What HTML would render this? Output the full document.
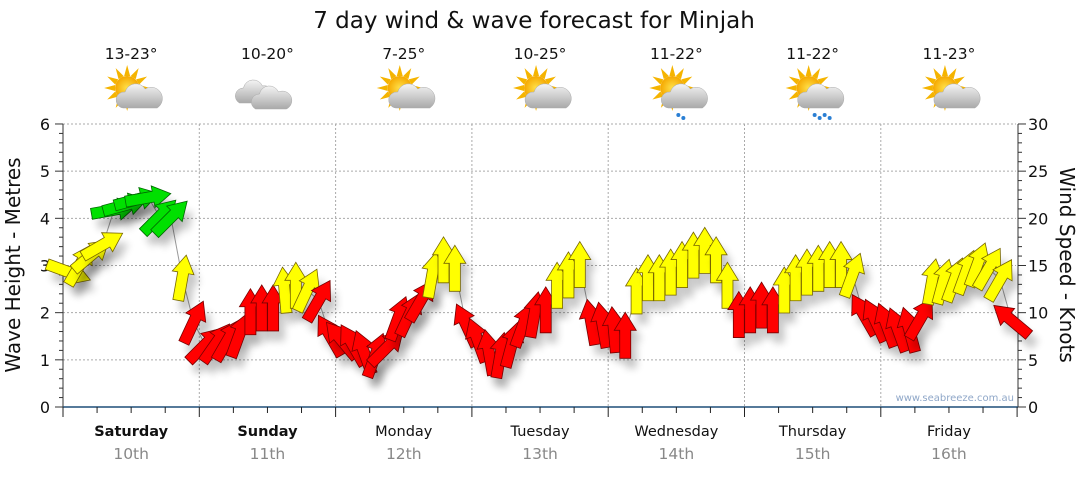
<!DOCTYPE html>
<html><head><meta charset="utf-8"><style>
body{margin:0;background:#fff;width:1080px;height:475px;overflow:hidden;font-family:"DejaVu Sans","Liberation Sans",sans-serif}
</style></head><body>
<svg id="c" width="1080" height="475" xmlns="http://www.w3.org/2000/svg">
<defs>
<filter id="sh" x="-50%" y="-50%" width="200%" height="200%"><feGaussianBlur stdDeviation="4"/></filter>
<radialGradient id="sun" cx="0.5" cy="0.5" r="0.5"><stop offset="0" stop-color="#ffe14a"/><stop offset="1" stop-color="#f5a800"/></radialGradient>
<linearGradient id="cl" x1="0" y1="0" x2="0" y2="1"><stop offset="0" stop-color="#f4f4f4"/><stop offset="1" stop-color="#a9a9a9"/></linearGradient>
</defs>
<text x="534" y="28" text-anchor="middle" font-size="23" fill="#111">7 day wind &amp; wave forecast for Minjah</text>
<g id="grid"></g><g id="axes"></g><g id="icons"></g><g id="marks"></g>
<text x="1014" y="401" text-anchor="end" font-size="10" fill="#8fa7c8">www.seabreeze.com.au</text>
<text transform="translate(20,265) rotate(-90)" text-anchor="middle" font-size="20" fill="#111">Wave Height - Metres</text>
<text transform="translate(1060,265) rotate(90)" text-anchor="middle" font-size="20" fill="#111">Wind Speed - Knots</text>
</svg>
<script>
const days=["Saturday","Sunday","Monday","Tuesday","Wednesday","Thursday","Friday"];
const dates=["10th","11th","12th","13th","14th","15th","16th"];
const temps=["13-23°","10-20°","7-25°","10-25°","11-22°","11-22°","11-23°"];
const weather=["sun","cloud","sun","sun","rain","rain2","sun"];
const leftTicks=[0,1,2,3,4,5,6];
const rightTicks=[0,5,10,15,20,25,30];
const windSpeed=[14.3,15.1,16.1,17.2,20.9,21.4,22.0,22.2,20.2,20.1,13.7,9.0,
6.6,6.8,7.1,7.6,10.1,10.5,10.5,12.4,12.9,12.4,11.3,7.6,
7.1,6.6,5.8,5.5,6.3,9.4,9.8,11.3,14.0,15.6,14.7,8.7,
7.1,5.8,5.5,6.6,8.7,9.8,10.3,12.9,14.0,15.1,9.0,8.7,
8.2,7.6,12.3,13.7,13.7,14.3,15.1,16.1,16.6,15.6,12.9,9.8,
10.3,10.8,10.3,12.4,13.7,14.3,14.7,15.1,15.1,14.0,9.8,9.2,
8.7,8.2,8.2,9.4,13.3,13.3,13.5,14.3,15.1,14.7,13.5,9.2];
const windDir=[110,30,50,60,80,75,75,80,45,45,10,25,
45,35,30,20,0,0,0,-5,0,25,30,-30,
-40,-30,-20,20,45,20,25,30,10,0,0,-25,
-20,-10,10,15,20,10,0,0,0,0,-10,-10,
-5,0,0,0,0,0,0,0,0,0,0,0,
0,0,0,0,0,0,0,0,0,20,-30,-25,
-20,-20,-15,30,10,15,20,20,20,30,30,-50];
const svg=document.getElementById('c'),NS="http://www.w3.org/2000/svg";
const X0=63,DW=136.3,Y0=407,PM=47.17;
const xAt=h=>X0+h/24*DW, yM=m=>Y0-m*PM, yK=k=>Y0-k/5*PM;
function mk(t,a,p){const e=document.createElementNS(NS,t);for(const k in a)e.setAttribute(k,a[k]);(p||svg).appendChild(e);return e;}
const grid=document.getElementById('grid'),axes=document.getElementById('axes'),icons=document.getElementById('icons'),marks=document.getElementById('marks');
leftTicks.forEach(v=>{if(v>0){const l=mk('line',{x1:X0,x2:1016,y1:yM(v),y2:yM(v),stroke:'#aaa','stroke-dasharray':'2,2'},grid);}
const t=mk('text',{x:50,y:yM(v)+6,'text-anchor':'end','font-size':16,fill:'#111'},axes);t.textContent=v;
});
rightTicks.forEach(v=>{const t=mk('text',{x:1028,y:yK(v)+6,'font-size':16,fill:'#111'},axes);t.textContent=v;
});
for(let i=0;i<=30;i++){const y=Y0-i*PM/5;mk('line',{x1:i%5?X0-4:X0-8,x2:X0,y1:y,y2:y,stroke:'#333'},axes);mk('line',{x1:1018,x2:i%5?1022:1026,y1:y,y2:y,stroke:'#333'},axes);}
mk('line',{x1:X0,x2:X0,y1:124,y2:Y0,stroke:'#333'},axes);mk('line',{x1:1018,x2:1018,y1:124,y2:Y0,stroke:'#333'},axes);
mk('line',{x1:X0,x2:1018,y1:Y0,y2:Y0,stroke:'#1f4e79','stroke-width':1.5},axes);
for(let q=0;q<=28;q++){const x=xAt(q*6);mk('line',{x1:x,x2:x,y1:Y0,y2:Y0+(q%4?6:10),stroke:'#222'},axes);
if(q%4==0&&q>0&&q<28){const l=mk('line',{x1:x,x2:x,y1:124,y2:Y0,stroke:'#aaa','stroke-dasharray':'2,2'},grid);}}
days.forEach((d,i)=>{const cx=xAt(i*24+12);
const t=mk('text',{x:cx,y:436,'text-anchor':'middle','font-size':14.5,fill:'#111','font-weight':i<2?'bold':'normal'},axes);t.textContent=d;

const t2=mk('text',{x:cx,y:459,'text-anchor':'middle','font-size':15.5,fill:'#888'},axes);t2.textContent=dates[i];

const t3=mk('text',{x:cx,y:59,'text-anchor':'middle','font-size':15.5,fill:'#111'},icons);t3.textContent=temps[i];

const g=mk('g',{transform:`translate(${cx},95)`},icons);

if(weather[i]!=='cloud'){for(let k=0;k<12;k++){mk('polygon',{points:'-3,-12 0,-23 3,-12',fill:'#f5b400',transform:`translate(-4,-7) rotate(${k*30})`},g);}
mk('circle',{cx:-4,cy:-7,r:12,fill:'url(#sun)'},g);
mk('path',{d:'M-8,13 a8,8 0 0 1 2,-16 a11,11 0 0 1 20,-3 a8,8 0 0 1 12,19 z',fill:'url(#cl)',stroke:'#aaa','stroke-width':.5},g);
if(weather[i]!=='sun'){const n=weather[i]==='rain2'?4:2;for(let k=0;k<n;k++)mk('circle',{cx:2+k*5,cy:20+(k%2)*3,r:2,fill:'#2a7fd4'},g);}}
else{mk('path',{d:'M-28,8 a8,8 0 0 1 4,-15 a10,10 0 0 1 19,-2 a8,8 0 0 1 4,17 z',fill:'url(#cl)',stroke:'#aaa','stroke-width':.5},g);
mk('path',{d:'M-12,14 a8,8 0 0 1 4,-15 a10,10 0 0 1 19,-2 a8,8 0 0 1 8,17 z',fill:'url(#cl)',stroke:'#aaa','stroke-width':.5},g);}});
let pts=windSpeed.map((v,i)=>xAt(i*2+1)+','+yK(v)).join(' ');
const pl=mk('polyline',{points:pts,fill:'none',stroke:'#999','stroke-width':1},marks);

const shape='M0,-23 L11,-5 L5.5,-5 L5.5,23 L-5.5,23 L-5.5,-5 L-11,-5 Z';
windSpeed.forEach((v,i)=>{const x=xAt(i*2+1),y=yK(v);
const col=v>=20?'#00e000':v>=12?'#ffff00':'#ff0000';
mk('path',{d:shape,fill:'#000',opacity:.22,filter:'url(#sh)',transform:`translate(${x+6},${y+10}) rotate(${windDir[i]})`},marks);
const a=mk('path',{d:shape,fill:col,stroke:col==='#ff0000'?'#700':col==='#00e000'?'#060':'#776600','stroke-width':.8,transform:`translate(${x},${y}) rotate(${windDir[i]})`},marks);

});
</script>
</body></html>
